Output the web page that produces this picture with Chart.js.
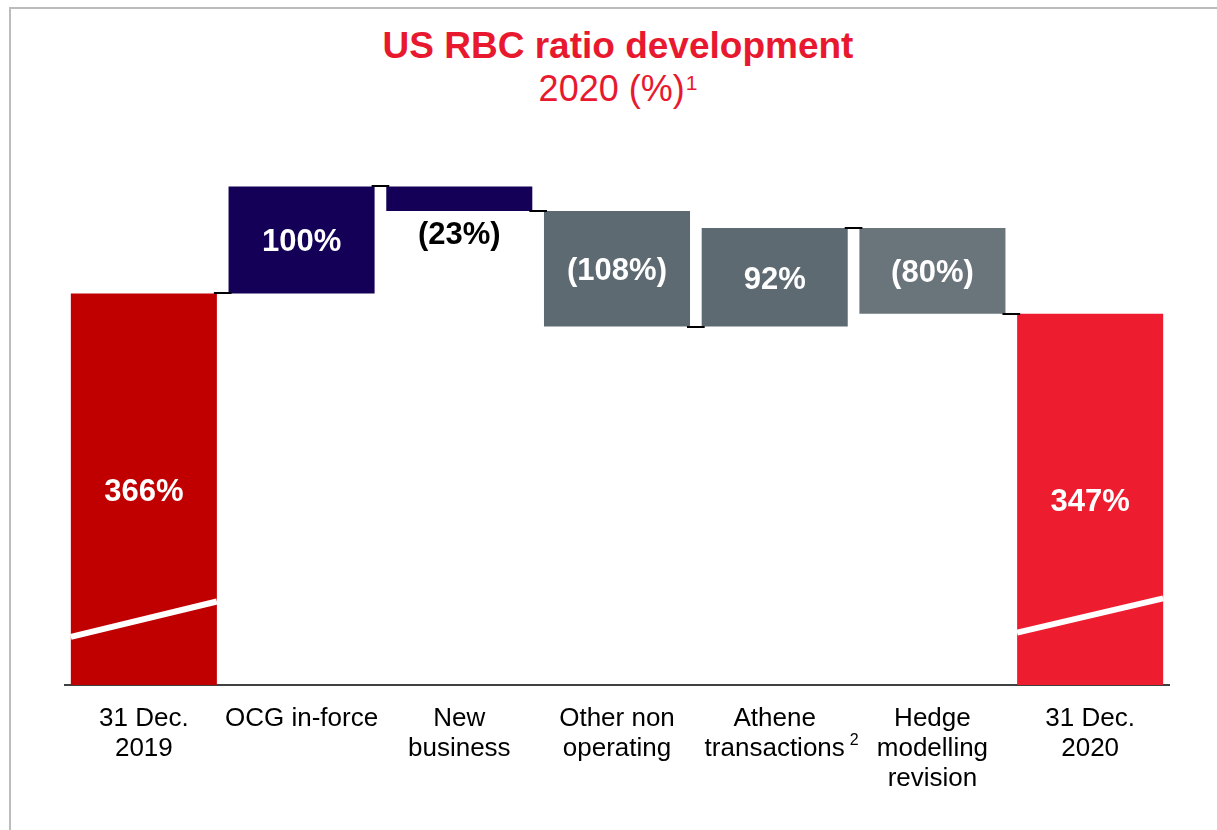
<!DOCTYPE html>
<html>
<head>
<meta charset="utf-8">
<script src="https://cdn.jsdelivr.net/npm/chart.js@4/dist/chart.umd.min.js"></script>
<style>
    body { margin: 0; background: #fff; font-family: "Liberation Sans", Arial, sans-serif; }
    #wrap { position: relative; width: 1217px; height: 830px; overflow: hidden; }
    #frame { position: absolute; left: 9px; top: 7px; width: 1300px; height: 900px;
             border-top: 2px solid #bcbcbc; border-left: 2px solid #bcbcbc; }
    .title { position: absolute; left: 618px; transform: translateX(-50%); white-space: nowrap;
             color: #e8192f; text-align: center; }
    #t1 { top: 27px; font-size: 37px; line-height: 37px; font-weight: bold; }
    #t2 { top: 71px; font-size: 36px; line-height: 36px; }
    #t2 sup { font-size: 21px; line-height: 0; vertical-align: baseline; position: relative; top: -11px; margin-left: 1px; }
    #chartBox { position: absolute; left: 0; top: 0; width: 1217px; height: 830px; }
</style>
</head>
<body>
<div id="wrap">
    <div id="frame"></div>
    <div class="title" id="t1">US RBC ratio development</div>
    <div class="title" id="t2">2020 (%)<sup>1</sup></div>
    <div id="chartBox"><canvas id="rbcChart"></canvas></div>
</div>
<script>
// Chart values
const categories = [["31 Dec.", "2019"], "OCG in-force", ["New", "business"], ["Other non", "operating"],
                    ["Athene", "transactions"], ["Hedge", "modelling", "revision"], ["31 Dec.", "2020"]];
const changes = [366, 100, -23, -108, 92, -80, 347];
const isTotal = [true, false, false, false, false, false, true];
const valueText = ["366%", "100%", "(23%)", "(108%)", "92%", "(80%)", "347%"];
const barColors = ["#c00000", "#150057", "#150057", "#5e6a71", "#5e6a71", "#6a747b", "#ed1c2e"];
// broken-axis marks on the total bars (value at left edge, value at right edge)
const breakMarks = [[45, 78], null, null, null, null, null, [49, 81]];

// build floating bars for the waterfall
let running = 0;
const floating = changes.map((v, i) => {
    if (isTotal[i]) { running = v; return [0, v]; }
    const start = running;
    running += v;
    return [start, running];
});

const waterfallExtras = {
    id: "waterfallExtras",
    afterDatasetsDraw(chart) {
        const ctx = chart.ctx;
        const meta = chart.getDatasetMeta(0);
        const y = chart.scales.y;
        ctx.save();
        // break marks
        ctx.strokeStyle = "#ffffff";
        ctx.lineWidth = 6;
        meta.data.forEach((bar, i) => {
            if (!breakMarks[i]) return;
            const half = bar.width / 2;
            ctx.beginPath();
            ctx.moveTo(bar.x - half, y.getPixelForValue(breakMarks[i][0]));
            ctx.lineTo(bar.x + half, y.getPixelForValue(breakMarks[i][1]));
            ctx.stroke();
        });
        // connectors
        ctx.strokeStyle = "#000000";
        ctx.lineWidth = 2;
        for (let i = 0; i < meta.data.length - 1; i++) {
            const a = meta.data[i], b = meta.data[i + 1];
            const level = floating[i][1];
            const py = Math.round(y.getPixelForValue(level));
            ctx.beginPath();
            ctx.moveTo(a.x + a.width / 2 - 3, py);
            ctx.lineTo(b.x - b.width / 2 + 3, py);
            ctx.stroke();
        }
        // value labels
        ctx.font = "bold 31px 'Liberation Sans', Arial, sans-serif";
        ctx.textAlign = "center";
        ctx.textBaseline = "middle";
        meta.data.forEach((bar, i) => {
            const top = Math.min(bar.y, bar.base), bottom = Math.max(bar.y, bar.base);
            if (bottom - top < 40) {
                ctx.fillStyle = "#000000";
                ctx.fillText(valueText[i], bar.x, bottom + 24);
            } else {
                ctx.fillStyle = "#ffffff";
                ctx.fillText(valueText[i], bar.x, (top + bottom) / 2 + 3);
            }
        });
        ctx.restore();
    },
    afterDraw(chart) {
        // footnote mark after "transactions"
        const ctx = chart.ctx;
        const x = chart.scales.x;
        ctx.save();
        ctx.font = "26px 'Liberation Sans', Arial, sans-serif";
        const w = ctx.measureText("transactions").width;
        ctx.font = "16px 'Liberation Sans', Arial, sans-serif";
        ctx.fillStyle = "#000000";
        ctx.textAlign = "left";
        ctx.textBaseline = "middle";
        ctx.fillText("2", x.getPixelForTick(4) + w / 2 + 5, x.top + 19 + 45 - 8);
        ctx.restore();
    }
};

new Chart(document.getElementById("rbcChart").getContext("2d"), {
    type: "bar",
    data: {
        labels: categories,
        datasets: [{
            data: floating,
            backgroundColor: barColors,
            borderWidth: 0,
            barPercentage: 0.926,
            categoryPercentage: 1
        }]
    },
    options: {
        responsive: true,
        maintainAspectRatio: false,
        animation: false,
        layout: { padding: { left: 65, right: 48, top: 150, bottom: 0 } },
        plugins: { legend: { display: false }, tooltip: { enabled: false }, title: { display: false } },
        scales: {
            x: {
                z: 1,
                grid: { display: false, drawTicks: false },
                border: { display: true, color: "#404040", width: 2 },
                ticks: {
                    color: "#000000",
                    padding: 19,
                    maxRotation: 0,
                    autoSkip: false,
                    font: { family: "'Liberation Sans', Arial, sans-serif", size: 26, lineHeight: "30px" }
                },
                afterFit: (scale) => { scale.height = 145; }
            },
            y: {
                display: false,
                min: 0,
                max: 500
            }
        }
    },
    plugins: [waterfallExtras]
});
</script>
</body>
</html>
